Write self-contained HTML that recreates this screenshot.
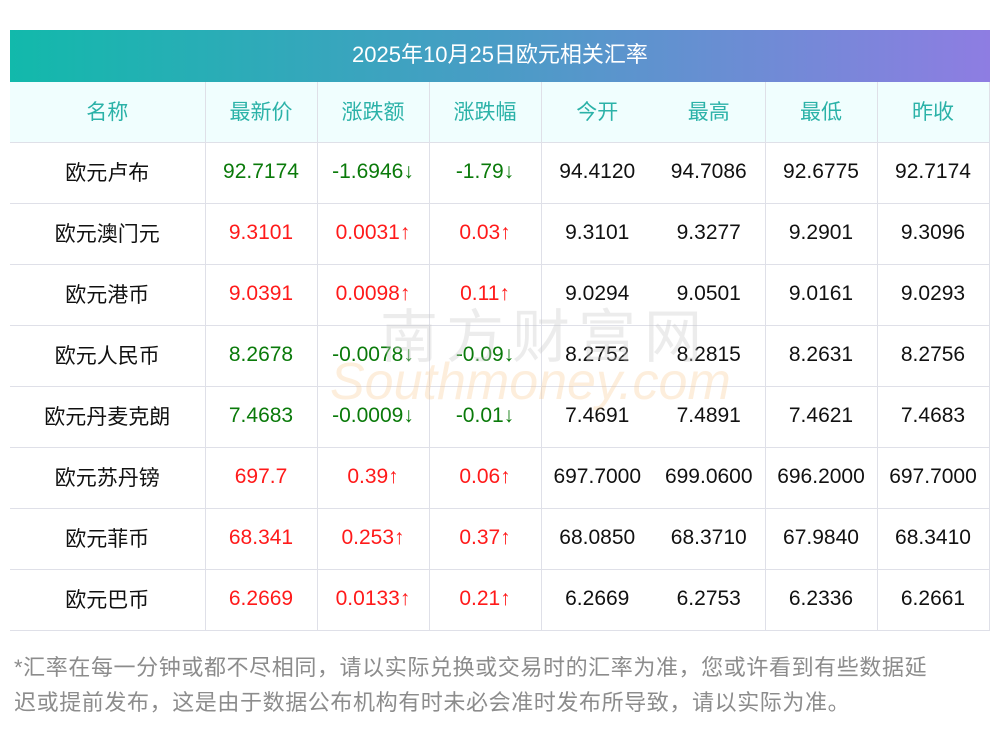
<!DOCTYPE html>
<html><head><meta charset="utf-8"><style>
body{margin:0;width:1000px;height:733px;background:#fff;font-family:"Liberation Sans","Noto Sans CJK SC",sans-serif;position:relative;overflow:hidden}
.title{position:absolute;left:10px;top:30px;width:980px;height:52px;background:linear-gradient(90deg,#12b9ab,#4a9cc6 50%,#8e7de2);color:#fff;font-size:22px;line-height:50px;text-align:center}
table{position:absolute;left:10px;top:82px;border-collapse:collapse;width:979px;table-layout:fixed}
td{height:57px;text-align:center;font-size:21px;border-bottom:1px solid #dfe0e8;padding:0 0 3px 0;color:#111;box-sizing:content-box}
tr.h td{background:#f0fefe;color:#2bb2a8;height:57px}
.b{border-left:1px solid #dfe0e8}
.r{border-right:1px solid #dfe0e8}
.g{color:#0a7a0a}.d{color:#ff1a1a}
.note{position:absolute;left:14px;top:650px;width:978px;font-size:22px;line-height:35px;color:#8c8c8c;letter-spacing:0.6px}
.wm{position:absolute;left:380px;top:290px;font-size:58px;color:rgba(200,200,200,0.35);letter-spacing:8px}
.wm2{position:absolute;left:330px;top:352px;font-size:52px;color:rgba(250,200,140,0.3);font-style:italic}
</style></head><body>
<div class="title">2025年10月25日欧元相关汇率</div>
<table>
<colgroup><col style="width:195px"><col style="width:112px"><col style="width:112px"><col style="width:112px"><col style="width:112px"><col style="width:112px"><col style="width:112px"><col style="width:112px"></colgroup>
<tr class="h"><td>名称</td><td class="b">最新价</td><td class="b">涨跌额</td><td class="b">涨跌幅</td><td class="b">今开</td><td>最高</td><td class="b">最低</td><td class="b r">昨收</td></tr>
<tr><td>欧元卢布</td><td class="b g">92.7174</td><td class="b g">-1.6946↓</td><td class="b g">-1.79↓</td><td class="b">94.4120</td><td>94.7086</td><td class="b">92.6775</td><td class="b r">92.7174</td></tr>
<tr><td>欧元澳门元</td><td class="b d">9.3101</td><td class="b d">0.0031↑</td><td class="b d">0.03↑</td><td class="b">9.3101</td><td>9.3277</td><td class="b">9.2901</td><td class="b r">9.3096</td></tr>
<tr><td>欧元港币</td><td class="b d">9.0391</td><td class="b d">0.0098↑</td><td class="b d">0.11↑</td><td class="b">9.0294</td><td>9.0501</td><td class="b">9.0161</td><td class="b r">9.0293</td></tr>
<tr><td>欧元人民币</td><td class="b g">8.2678</td><td class="b g">-0.0078↓</td><td class="b g">-0.09↓</td><td class="b">8.2752</td><td>8.2815</td><td class="b">8.2631</td><td class="b r">8.2756</td></tr>
<tr><td>欧元丹麦克朗</td><td class="b g">7.4683</td><td class="b g">-0.0009↓</td><td class="b g">-0.01↓</td><td class="b">7.4691</td><td>7.4891</td><td class="b">7.4621</td><td class="b r">7.4683</td></tr>
<tr><td>欧元苏丹镑</td><td class="b d">697.7</td><td class="b d">0.39↑</td><td class="b d">0.06↑</td><td class="b">697.7000</td><td>699.0600</td><td class="b">696.2000</td><td class="b r">697.7000</td></tr>
<tr><td>欧元菲币</td><td class="b d">68.341</td><td class="b d">0.253↑</td><td class="b d">0.37↑</td><td class="b">68.0850</td><td>68.3710</td><td class="b">67.9840</td><td class="b r">68.3410</td></tr>
<tr><td>欧元巴币</td><td class="b d">6.2669</td><td class="b d">0.0133↑</td><td class="b d">0.21↑</td><td class="b">6.2669</td><td>6.2753</td><td class="b">6.2336</td><td class="b r">6.2661</td></tr>
</table>
<div class="wm">南方财富网</div>
<div class="wm2">Southmoney.com</div>
<div class="note">*汇率在每一分钟或都不尽相同，请以实际兑换或交易时的汇率为准，您或许看到有些数据延<br>迟或提前发布，这是由于数据公布机构有时未必会准时发布所导致，请以实际为准。</div>
</body></html>
